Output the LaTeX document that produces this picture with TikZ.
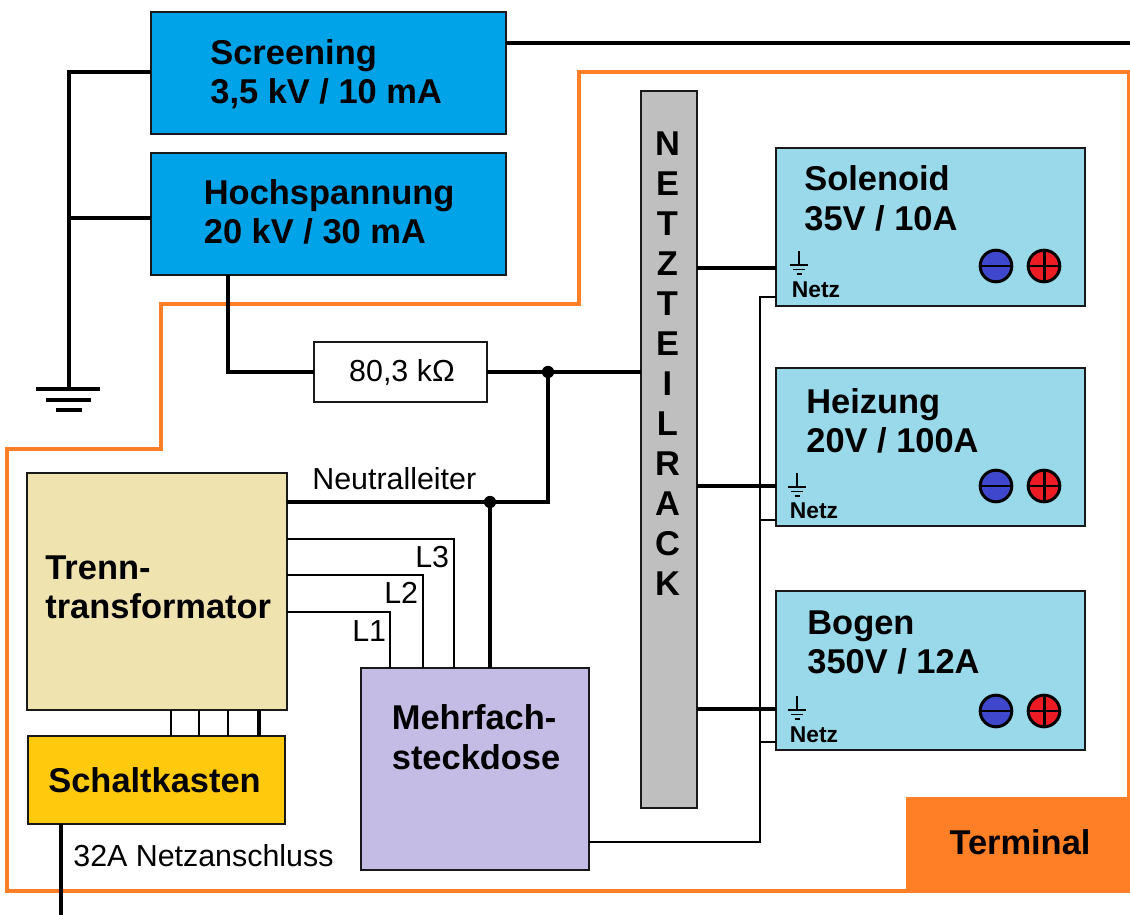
\documentclass[tikz,border=0pt]{standalone}
\usepackage{fontspec}
\setmainfont{Liberation Sans}
\usepackage{tikz}
\usetikzlibrary{positioning}
\definecolor{termorange}{HTML}{FF7F27}
\definecolor{hvblue}{HTML}{00A2E8}
\definecolor{psublue}{HTML}{99D9EA}
\definecolor{trafosand}{HTML}{EFE4B0}
\definecolor{switchgold}{HTML}{FFC90E}
\definecolor{socketlilac}{HTML}{C4BCE4}
\definecolor{rackgray}{HTML}{BFBFBF}
\definecolor{minusblue}{HTML}{3F48CC}
\definecolor{plusred}{HTML}{ED1C24}
\tikzset{
  unit/.style={draw=black!90,line width=1.2pt,inner sep=0pt,outer sep=0pt,anchor=north west},
  boxlabel/.style={anchor=west,align=left,inner sep=0pt,font=\fontsize{19.6}{22.5}\selectfont\bfseries},
  racklabel/.style={anchor=center,align=center,inner sep=0pt,font=\fontsize{19.6}{22.76}\selectfont\bfseries},
  smalllabel/.style={inner sep=0pt,font=\fontsize{17.3}{19}\selectfont},
  netzlabel/.style={inner sep=0pt,font=\fontsize{13}{14}\selectfont\bfseries},
  heavywire/.style={line width=2.8pt,line join=miter},
  phasewire/.style={line width=1.7pt,line join=miter},
  mainswire/.style={line width=1.3pt,line join=miter},
  junction/.style={circle,fill=black,inner sep=0pt,outer sep=0pt,minimum size=7pt},
  earthbar/.style={line width=2.3pt},
  termbar/.style={line width=1.7pt},
  minusterm/.style={circle,draw=black,line width=1.7pt,fill=minusblue,minimum size=18pt,inner sep=0pt,outer sep=0pt},
  plusterm/.style={circle,draw=black,line width=1.7pt,fill=plusred,minimum size=18pt,inner sep=0pt,outer sep=0pt},
  thinearth/.pic={
    \draw[line width=.7pt] (0,-14) -- (0,0);
    \draw[line width=.7pt] (-9,0) -- (9,0);
    \draw[line width=.7pt] (-6,4.5) -- (6,4.5);
    \draw[line width=.7pt] (-2.5,9) -- (2.5,9);
  }
}
\begin{document}
\begin{tikzpicture}[x=0.02cm,y=-0.02cm]
  \useasboundingbox (0,0) rectangle (1130,915);

  % terminal outline
  \draw[termorange,line width=1.75pt] (579,72) -- (1129,72) -- (1129,891) -- (7,891) -- (7,449) -- (161,449) -- (161,304) -- (579,304) -- cycle;
  \node[fill=termorange,minimum width=223*0.02cm,minimum height=94*0.02cm,inner sep=0pt,outer sep=0pt,anchor=north west] (terminal) at (906,797) {};
  \node[boxlabel,anchor=center] (terminaltxt) at (1020,842) {Terminal};

  % high voltage
  \node[unit,fill=hvblue,minimum width=355*0.02cm,minimum height=122*0.02cm] (screening) at (151,12) {};
  \node[unit,fill=hvblue,minimum width=355*0.02cm,minimum height=122*0.02cm] (hochspannung) at (151,153) {};
  \node[boxlabel] (screeningtxt) at (210,74) {Screening\\3,5 kV / 10 mA};
  \node[boxlabel] (hochspannungtxt) at (203.5,212) {Hochspannung\\20 kV / 30 mA};

  % rack and supplies
  \node[unit,fill=rackgray,minimum width=56*0.02cm,minimum height=717*0.02cm] (rack) at (641,91) {};
  \node[unit,fill=psublue,minimum width=309*0.02cm,minimum height=158*0.02cm] (solenoid) at (776,148) {};
  \node[unit,fill=psublue,minimum width=309*0.02cm,minimum height=158*0.02cm] (heizung) at (776,368) {};
  \node[unit,fill=psublue,minimum width=309*0.02cm,minimum height=159*0.02cm] (bogen) at (776,591) {};
  \node[boxlabel] (solenoidtxt) at (804,198.5) {Solenoid\\35V / 10A};
  \node[boxlabel] (heizungtxt) at (806,421) {Heizung\\20V / 100A};
  \node[boxlabel] (bogentxt) at (807,642.5) {Bogen\\350V / 12A};
  \node[netzlabel] (netza) at (816,290) {Netz};
  \node[netzlabel] (netzb) at (814,511) {Netz};
  \node[netzlabel] (netzc) at (814,735) {Netz};
  \node[racklabel] (racktxt) at (667.5,364) {N\\E\\T\\Z\\T\\E\\I\\L\\R\\A\\C\\K};

  % mains side
  \node[unit,fill=trafosand,minimum width=260*0.02cm,minimum height=237*0.02cm] (trafo) at (27,473) {};
  \node[unit,fill=switchgold,minimum width=257*0.02cm,minimum height=88*0.02cm] (schaltkasten) at (28,736) {};
  \node[unit,fill=socketlilac,minimum width=228*0.02cm,minimum height=202*0.02cm] (steckdose) at (361,668) {};
  \node[unit,fill=white,minimum width=173*0.02cm,minimum height=60*0.02cm] (widerstand) at (314,342) {};
  \node[boxlabel] (trafotxt) at (45,587.5) {Trenn-\\transformator};
  \node[boxlabel] (schaltkastentxt) at (48,780) {Schaltkasten};
  \node[boxlabel] (steckdosetxt) at (391.5,737) {Mehrfach-\\steckdose};
  \node[smalllabel] (widerstandtxt) at (402,372) {80,3 kΩ};
  \node[smalllabel,anchor=west] (neutraltxt) at (312,479) {Neutralleiter};
  \node[smalllabel,anchor=east] (lthreetxt) at (449.5,557) {L3};
  \node[smalllabel,anchor=east] (ltwotxt) at (418.5,593) {L2};
  \node[smalllabel,anchor=east] (lonetxt) at (386.5,631) {L1};
  \node[smalllabel,anchor=west] (netztxt) at (73,856) {32A Netzanschluss};

  % free ends and tap points
  \coordinate (screenout) at (1130,43);
  \coordinate (screenleft) at (151,72);
  \coordinate (hochleft) at (151,218);
  \coordinate (earth) at (69,389);
  \coordinate (hochdown) at (228,372);
  \coordinate (supply) at (61,915);
  \coordinate (tapa) at (760,297);
  \coordinate (tapb) at (760,520);
  \coordinate (tapc) at (760,742);
  \coordinate (tapd) at (760,842);
  \coordinate (solfeed) at (697,268);
  \coordinate (heizfeed) at (697,486);
  \coordinate (bogenfeed) at (697,709);
  \coordinate (neutral) at (548,502);
  \coordinate (lthree) at (454,539);
  \coordinate (ltwo) at (423,575);
  \coordinate (lone) at (390,612);
  \node[junction] (jtop) at (548,372) {};
  \node[junction] (jneutral) at (490,502) {};

  % connectors
  \draw[heavywire] (screening.east |- screenout) -- (screenout);
  \draw[heavywire] (screening.west |- screenleft) -- (earth |- screenleft) -- (earth);
  \draw[heavywire] (hochspannung.west |- hochleft) -- (earth |- hochleft);
  \draw[heavywire] (hochspannung.south -| hochdown) -- (hochdown) -- (widerstand.west);
  \draw[heavywire] (widerstand.east) -- (jtop) -- (rack.west |- jtop);
  \draw[heavywire] (trafo.east |- neutral) -- (neutral) -- (jtop);
  \draw[heavywire] (jneutral) -- (steckdose.north -| jneutral);
  \draw[heavywire] (rack.east |- solfeed) -- (solenoid.west |- solfeed);
  \draw[heavywire] (rack.east |- heizfeed) -- (heizung.west |- heizfeed);
  \draw[heavywire] (rack.east |- bogenfeed) -- (bogen.west |- bogenfeed);
  \draw[heavywire] (schaltkasten.south -| supply) -- (supply);

  \draw[phasewire] (trafo.east |- lthree) -- (lthree) -- (steckdose.north -| lthree);
  \draw[phasewire] (trafo.east |- ltwo) -- (ltwo) -- (steckdose.north -| ltwo);
  \draw[phasewire] (trafo.east |- lone) -- (lone) -- (steckdose.north -| lone);

  \draw[mainswire] (steckdose.east |- tapd) -- (tapd) -- (tapa) -- (solenoid.west |- tapa);
  \draw[mainswire] (tapb) -- (heizung.west |- tapb);
  \draw[mainswire] (tapc) -- (bogen.west |- tapc);

  % trafo to switch box
  \coordinate (linka) at (171,723);
  \coordinate (linkb) at (199,723);
  \coordinate (linkc) at (228,723);
  \coordinate (linkd) at (259,723);
  \draw[phasewire] (trafo.south -| linka) -- (schaltkasten.north -| linka);
  \draw[phasewire] (trafo.south -| linkb) -- (schaltkasten.north -| linkb);
  \draw[phasewire] (trafo.south -| linkc) -- (schaltkasten.north -| linkc);
  \draw[heavywire] (trafo.south -| linkd) -- (schaltkasten.north -| linkd);

  % earth symbol
  \draw[earthbar] (36,389) -- (100,389);
  \draw[earthbar] (46,400) -- (91,400);
  \draw[earthbar] (56,410) -- (82,410);

  % supply symbols
  \pic at (799,265) {thinearth};
  \pic at (797,487) {thinearth};
  \pic at (797,710) {thinearth};

  \node[minusterm] (minusa) at (996,266) {};
  \node[plusterm] (plusa) at (1044,266) {};
  \node[minusterm] (minusb) at (996,486) {};
  \node[plusterm] (plusb) at (1044,486) {};
  \node[minusterm] (minusc) at (996,711) {};
  \node[plusterm] (plusc) at (1044,711) {};
  \draw[termbar] (minusa.west) -- (minusa.east);
  \draw[termbar] (plusa.west) -- (plusa.east);
  \draw[termbar] (plusa.north) -- (plusa.south);
  \draw[termbar] (minusb.west) -- (minusb.east);
  \draw[termbar] (plusb.west) -- (plusb.east);
  \draw[termbar] (plusb.north) -- (plusb.south);
  \draw[termbar] (minusc.west) -- (minusc.east);
  \draw[termbar] (plusc.west) -- (plusc.east);
  \draw[termbar] (plusc.north) -- (plusc.south);
\end{tikzpicture}
\end{document}
